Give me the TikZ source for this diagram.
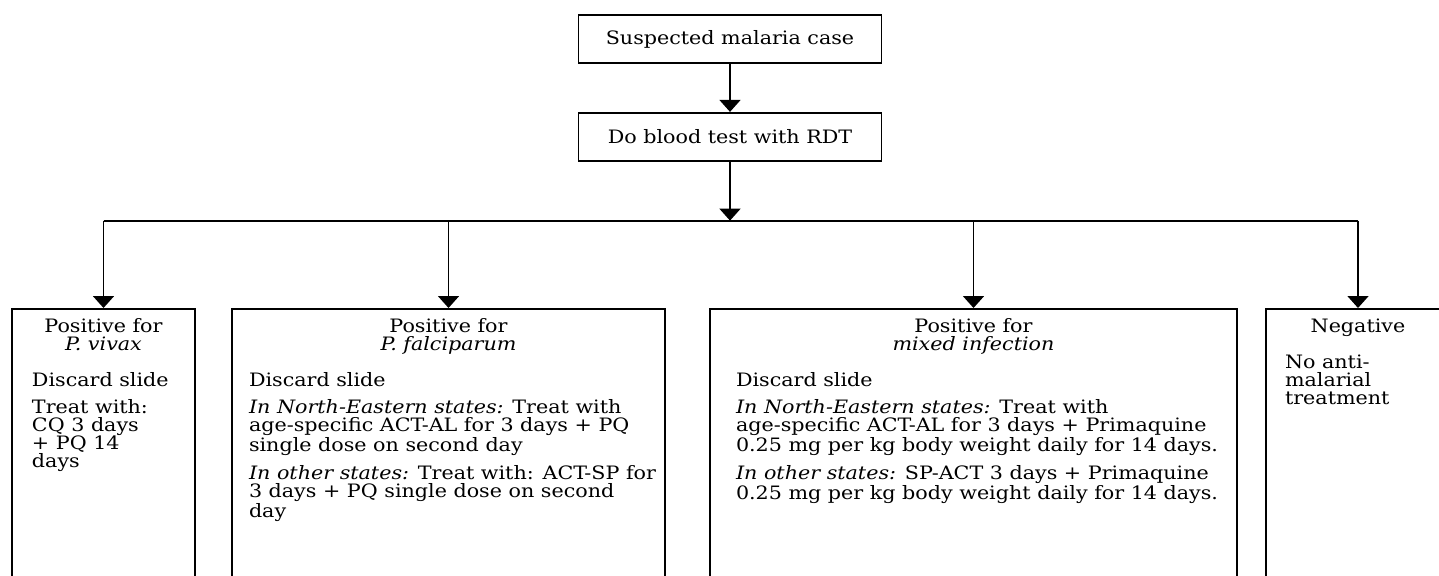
\documentclass[tikz,border=0pt]{standalone}
\usepackage{fontspec}
\setmainfont{DejaVu Serif}[FakeStretch=1.12]
\usetikzlibrary{arrows.meta,positioning}

% box body: [left indent] width, centred heading, left-aligned text
\newcommand{\boxbody}[4][0pt]{\parbox[t][5.6cm][t]{#2}{\raggedright
  {\centering #3\par}\vspace{0.36cm}\leftskip=#1 #4}}
\newcommand{\gap}{\par\vspace{0.17cm}}

\begin{document}
\begin{tikzpicture}[
    every node/.style={font=\fontsize{10.5}{10.24}\selectfont},
    stepbox/.style={rectangle, draw, line width=1pt, minimum width=6.06cm, minimum height=0.96cm, inner sep=0pt},
    outcome/.style={rectangle, draw, line width=1pt, anchor=north, inner ysep=0.2cm},
    arr/.style={-{Triangle[length=0.24cm,width=0.42cm]}, line width=1pt}
]
    \useasboundingbox (0,0) rectangle (28.78,-11.52);
    \clip (0,0) rectangle (28.78,-11.52);

    % Nodes
    \node (suspect) [stepbox] at (14.6,-0.78) {Suspected malaria case};
    \node (rdt) [stepbox, below=0.96cm of suspect] {Do blood test with RDT};
    \coordinate [below=1.18cm of rdt] (split);

    \node (vivax) [outcome, inner xsep=0.4cm] at (2.07,-6.16) {\boxbody{2.86cm}
        {Positive for\\\textit{P. vivax}}
        {Discard slide\gap Treat with:\\CQ 3 days\\+ PQ 14\\days}};

    \node (falci) [outcome, inner xsep=0.1cm] at (8.97,-6.16) {\boxbody[0.24cm]{8.46cm}
        {Positive for\\\textit{P. falciparum}}
        {Discard slide\gap
         \textit{In North-Eastern states:} Treat with\\age-specific ACT-AL for 3 days + PQ\\single dose on second day\gap
         \textit{In other states:} Treat with: ACT-SP for\\3 days + PQ single dose on second\\day}};

    \node (mixed) [outcome, inner xsep=0.12cm] at (19.47,-6.16) {\boxbody[0.4cm]{10.3cm}
        {Positive for\\\textit{mixed infection}}
        {Discard slide\gap
         \textit{In North-Eastern states:} Treat with\\age-specific ACT-AL for 3 days + Primaquine\\0.25 mg per kg body weight daily for 14 days.\gap
         \textit{In other states:} SP-ACT 3 days + Primaquine\\0.25 mg per kg body weight daily for 14 days.}};

    \node (negative) [outcome, inner xsep=0.38cm] at (27.16,-6.16) {\boxbody{2.92cm}
        {Negative}
        {No anti-\\malarial\\treatment}};

    % Connectors
    \draw [arr] (suspect) -- (rdt);
    \draw [arr] (rdt) -- (split);
    \draw [line width=1pt] (split -| vivax) -- (split -| negative);
    \draw [arr] (split -| vivax) -- (vivax);
    \draw [arr] (split -| falci) -- (falci);
    \draw [arr] (split -| mixed) -- (mixed);
    \draw [arr] (split -| negative) -- (negative);
\end{tikzpicture}
\end{document}
